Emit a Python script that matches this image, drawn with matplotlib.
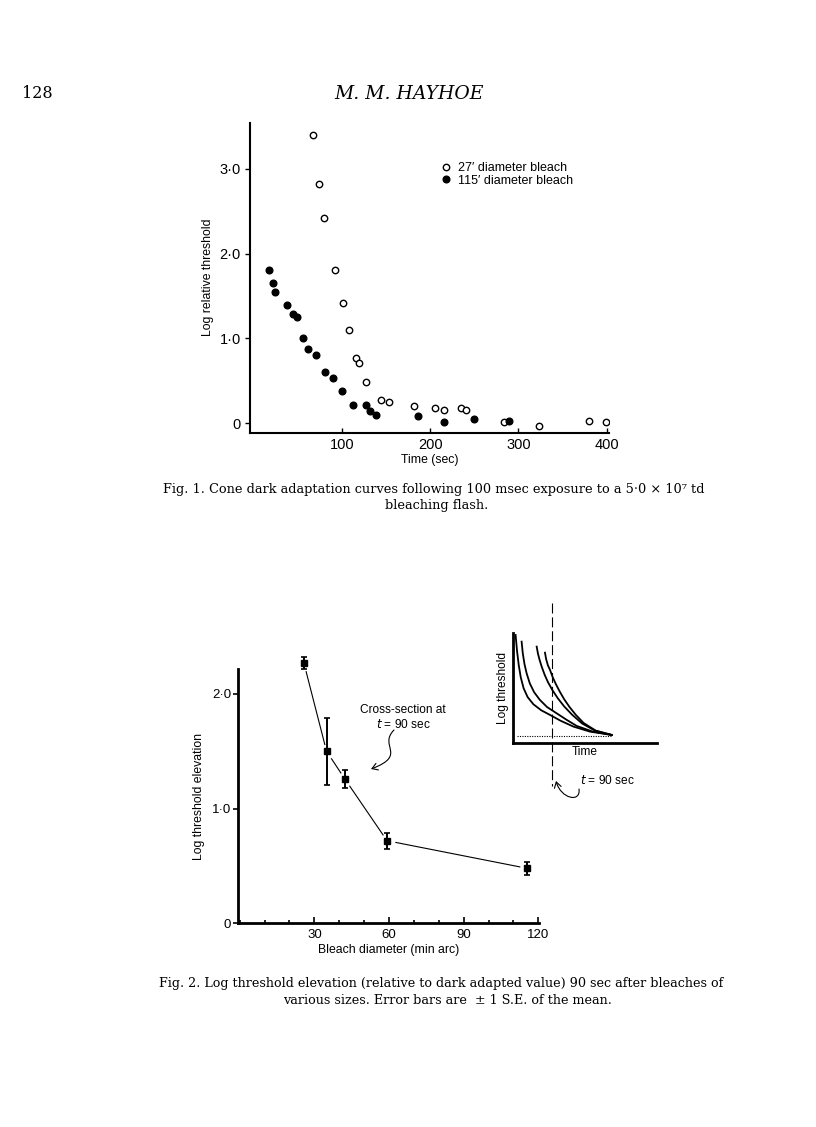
import matplotlib
matplotlib.use("Agg")
import matplotlib.pyplot as plt
import numpy as np
from matplotlib.path import Path
from matplotlib.patches import FancyArrowPatch
from matplotlib.lines import Line2D
from matplotlib.ticker import FixedLocator, FixedFormatter, MultipleLocator

# ---------------- data ----------------
# Fig. 1: cone dark adaptation
t_27 = [67.1, 74.6, 79.6, 92.4, 101.1, 108.2, 115.8, 119.9, 127.8, 144.5,
        153.2, 181.5, 205.6, 215.4, 235.0, 240.7, 284.1, 323.0, 379.6, 399.2]
thr_27 = [3.40, 2.82, 2.42, 1.81, 1.42, 1.10, 0.77, 0.71, 0.49, 0.28,
          0.25, 0.20, 0.18, 0.16, 0.18, 0.16, 0.01, -0.03, 0.03, 0.01]
t_115 = [18.0, 21.8, 24.1, 38.0, 44.5, 49.4, 56.5, 61.5, 71.2, 81.1,
         89.8, 100.7, 113.1, 127.1, 132.3, 138.8, 186.7, 216.1, 249.7, 289.0]
thr_115 = [1.81, 1.66, 1.55, 1.40, 1.29, 1.25, 1.01, 0.88, 0.81, 0.60,
           0.53, 0.38, 0.21, 0.21, 0.15, 0.10, 0.09, 0.01, 0.05, 0.03]
fig1_xticks = [100, 200, 300, 400]
fig1_xticklabels = ["100", "200", "300", "400"]
fig1_yticks = [0, 1, 2, 3]
fig1_yticklabels = ["0", "1·0", "2·0", "3·0"]
legend_labels = ["27′ diameter bleach", "115′ diameter bleach"]

# Fig. 2: threshold elevation vs bleach diameter
diameter = [25.8, 34.9, 42.2, 59.2, 115.3]
elevation = [2.27, 1.50, 1.26, 0.72, 0.48]
se = [0.055, 0.29, 0.08, 0.07, 0.055]
fig2_xticks = [30, 60, 90, 120]
fig2_xticklabels = ["30", "60", "90", "120"]
fig2_yticks = [0, 1, 2]
fig2_yticklabels = ["0", "1·0", "2·0"]

# Inset schematic curves (arbitrary units 0-100)
inset_curve_a_x = [1.6, 2.6, 3.8, 5.2, 7.2, 10.0, 14.0, 19.5, 25.6, 33.0, 41.9, 53.5, 68.6]
inset_curve_a_y = [98.5, 84.0, 71.0, 60.0, 50.0, 42.0, 35.5, 30.0, 25.8, 20.5, 15.2, 10.6, 7.6]
inset_curve_b_x = [5.8, 6.6, 7.8, 9.3, 11.5, 14.5, 18.5, 23.5, 30.2, 37.0, 44.2, 55.0, 68.6]
inset_curve_b_y = [92.4, 82.0, 72.0, 63.6, 54.5, 46.5, 39.5, 33.0, 27.3, 21.5, 15.8, 10.8, 7.6]
inset_curve_c_x = [16.3, 17.2, 18.4, 19.8, 21.8, 24.2, 27.2, 31.0, 35.5, 41.0, 48.0, 57.0, 68.6]
inset_curve_c_y = [87.9, 81.5, 75.5, 69.7, 62.5, 55.5, 48.5, 41.0, 33.5, 26.0, 18.0, 11.5, 7.6]
inset_curve_d_x = [22.1, 22.9, 24.1, 25.6, 27.5, 29.8, 32.4, 35.5, 39.2, 43.5, 49.0, 57.5, 68.6]
inset_curve_d_y = [82.4, 76.5, 71.0, 66.7, 60.0, 53.5, 47.0, 40.0, 33.0, 26.0, 18.5, 11.5, 7.6]
inset_baseline_x = [2.3, 68.6]
inset_baseline_y = [7.0, 7.0]

# ---------------- figure ----------------
W, H = 816, 1127
fig = plt.figure(figsize=(W / 100, H / 100), dpi=100)
SANS = ["Liberation Sans", "DejaVu Sans"]
SERIF = ["DejaVu Serif"]
plt.rcParams["font.family"] = SANS


def rect(x0, y0, x1, y1):
    """pixel box (top-left origin) -> figure fraction rect"""
    return [x0 / W, 1 - y1 / H, (x1 - x0) / W, (y1 - y0) / H]


# page overlay (pixel coordinates) for header, captions and annotations
page = fig.add_axes([0, 0, 1, 1], zorder=5)
page.set_xlim(0, W)
page.set_ylim(H, 0)
page.axis("off")
page.patch.set_visible(False)

page.text(22, 94, "128", family=SERIF, fontsize=11.5, va="center", ha="left")
page.text(409, 94, "M. M. HAYHOE", family=SERIF, fontsize=13.5, style="italic",
          va="center", ha="center")

# ---------------- Fig. 1 ----------------
ax1 = fig.add_axes(rect(250, 122.7, 609, 432.7))
ax1.plot(t_27, thr_27, linestyle="none", marker="o", markersize=4.6,
         markerfacecolor="white", markeredgecolor="black", markeredgewidth=1.0,
         label=legend_labels[0])
ax1.plot(t_115, thr_115, linestyle="none", marker="o", markersize=4.8,
         markerfacecolor="black", markeredgecolor="black",
         label=legend_labels[1])
ax1.set_xlim(-3.9, 402.6)
ax1.set_ylim(-0.111, 3.545)
for s in ["top", "right"]:
    ax1.spines[s].set_visible(False)
for s in ["left", "bottom"]:
    ax1.spines[s].set_linewidth(1.5)
ax1.xaxis.set_major_locator(FixedLocator(fig1_xticks))
ax1.xaxis.set_major_formatter(FixedFormatter(fig1_xticklabels))
ax1.yaxis.set_major_locator(FixedLocator(fig1_yticks))
ax1.yaxis.set_major_formatter(FixedFormatter(fig1_yticklabels))
ax1.tick_params(axis="x", direction="in", length=3.5, width=1.0, pad=3.5,
                labelsize=10.5)
ax1.tick_params(axis="y", direction="out", length=3.5, width=1.0, pad=3.0,
                labelsize=10.5)
ax1.set_xlabel("Time (sec)", fontsize=8.8, labelpad=2)
ax1.set_ylabel("Log relative threshold", fontsize=8.8, labelpad=4)
ax1.legend(loc="upper left", bbox_to_anchor=(436 / W, 1 - 157 / H),
           bbox_transform=fig.transFigure, frameon=False, fontsize=9,
           handlelength=0.8, handletextpad=0.6, labelspacing=0.05,
           borderaxespad=0, borderpad=0.4)

page.text(434, 490, "Fig. 1. Cone dark adaptation curves following 100 msec "
          "exposure to a 5·0 × 10⁷ td", family=SERIF, fontsize=9.3,
          ha="center", va="center")
page.text(437, 506, "bleaching flash.", family=SERIF, fontsize=9.3,
          ha="center", va="center")

# ---------------- Fig. 2 ----------------
ax2 = fig.add_axes(rect(238.3, 669, 538.6, 923.3))
ax2.set_xlim(-0.55, 120.1)
ax2.set_ylim(0, 2.217)
eb = ax2.errorbar(diameter, elevation, yerr=se, fmt="s", color="black",
                  markersize=4, elinewidth=1.4, capsize=2.5, capthick=1.2,
                  zorder=3)
for child in eb.get_children():
    child.set_clip_on(False)
for s in ["top", "right"]:
    ax2.spines[s].set_visible(False)
for s in ["left", "bottom"]:
    ax2.spines[s].set_linewidth(2.0)
ax2.xaxis.set_major_locator(FixedLocator(fig2_xticks))
ax2.xaxis.set_major_formatter(FixedFormatter(fig2_xticklabels))
ax2.xaxis.set_minor_locator(MultipleLocator(10))
ax2.yaxis.set_major_locator(FixedLocator(fig2_yticks))
ax2.yaxis.set_major_formatter(FixedFormatter(fig2_yticklabels))
ax2.tick_params(axis="x", which="major", direction="in", length=4, width=1.2,
                pad=4, labelsize=9.5)
ax2.tick_params(axis="x", which="minor", direction="in", length=2.5, width=1.2)
ax2.tick_params(axis="y", direction="out", length=3.5, width=1.2, pad=1.5,
                labelsize=9.5)
ax2.set_xlabel("Bleach diameter (min arc)", fontsize=8.8, labelpad=2)
ax2.set_ylabel("Log threshold elevation", fontsize=8.8, labelpad=5)

# connecting segments that stop short of each point (gaps as in the original)
fig.canvas.draw()
pts = ax2.transData.transform(np.column_stack([diameter, elevation]))
gap_start, gap_end = 9.0, 7.0
for p0, p1 in zip(pts[:-1], pts[1:]):
    d = p1 - p0
    u = d / np.hypot(*d)
    a = ax2.transData.inverted().transform(p0 + u * gap_start)
    b = ax2.transData.inverted().transform(p1 - u * gap_end)
    ax2.plot([a[0], b[0]], [a[1], b[1]], color="black", lw=0.8, zorder=2,
             clip_on=False)

# annotation "Cross-section at t = 90 sec"
page.text(403, 710, "Cross-section at", fontsize=8.6, ha="center", va="center")
page.text(403, 724, "$t$ = 90 sec", fontsize=8.6, ha="center", va="center")
squig1 = Path([(394, 730), (378, 746), (408, 755), (371, 769)],
              [Path.MOVETO, Path.CURVE4, Path.CURVE4, Path.CURVE4])
page.add_patch(FancyArrowPatch(path=squig1, arrowstyle="->,head_length=4,head_width=2.5",
                               color="black", lw=0.8))

# inset schematic
ins = fig.add_axes(rect(513.3, 633.3, 656.7, 743.3))
ins.set_xlim(0, 100)
ins.set_ylim(0, 100)
ins.patch.set_visible(False)
for s in ["top", "right"]:
    ins.spines[s].set_visible(False)
for s in ["left", "bottom"]:
    ins.spines[s].set_linewidth(2.0)
ins.set_xticks([])
ins.set_yticks([])
for cx, cy in [(inset_curve_a_x, inset_curve_a_y), (inset_curve_b_x, inset_curve_b_y),
               (inset_curve_c_x, inset_curve_c_y), (inset_curve_d_x, inset_curve_d_y)]:
    ins.plot(cx, cy, color="black", lw=1.3, solid_joinstyle="round")
ins.plot(inset_baseline_x, inset_baseline_y, color="black", lw=0.8, linestyle=(0, (1, 1.2)))
ins.set_ylabel("Log threshold", fontsize=8.6, labelpad=3)
ins.set_xlabel("Time", fontsize=8.6, labelpad=2)

# dashed vertical t = 90 sec marker
page.add_line(Line2D([551.7, 551.7], [603, 786], color="black", lw=0.8,
                     linestyle=(0, (9, 3.5))))
page.text(580, 781, "$t$ = 90 sec", fontsize=8.6, ha="left", va="center")
squig2 = Path([(579, 789), (581, 803), (561, 799), (556, 781)],
              [Path.MOVETO, Path.CURVE4, Path.CURVE4, Path.CURVE4])
page.add_patch(FancyArrowPatch(path=squig2, arrowstyle="->,head_length=4,head_width=2.5",
                               color="black", lw=0.8))

page.text(441, 984, "Fig. 2. Log threshold elevation (relative to dark adapted value) "
          "90 sec after bleaches of", family=SERIF, fontsize=9.2,
          ha="center", va="center")
page.text(447, 1000, "various sizes. Error bars are  ± 1 S.E. of the mean.",
          family=SERIF, fontsize=9.2, ha="center", va="center")

fig.savefig("out.png", dpi=100)
